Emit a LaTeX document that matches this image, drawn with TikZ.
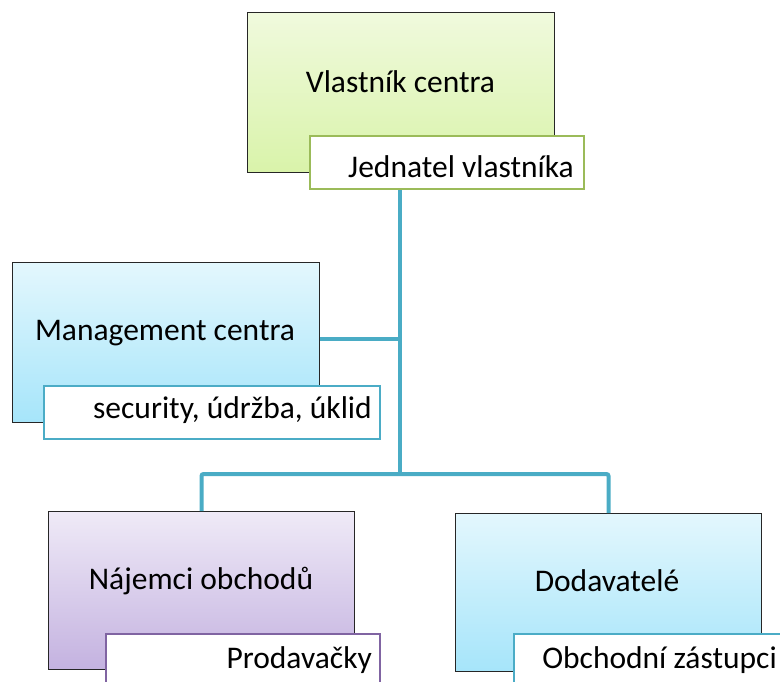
\documentclass[tikz,border=0pt]{standalone}
\usepackage{fontspec}
\setmainfont{Carlito}
\begin{document}
\begin{tikzpicture}[x=1pt,y=-1pt,
  mainbox/.style={draw=black!85, line width=1pt, minimum width=#1, minimum height=160pt, inner sep=0pt, anchor=north west},
  subbox/.style={draw=#1, fill=white, line width=1.5pt, minimum height=53pt, inner sep=0pt, anchor=north west},
  lbl/.style={font=\fontsize{31.5}{36}\selectfont, inner sep=0pt},
  conn/.style={draw={rgb,255:red,74;green,172;blue,197}, line width=4pt, rounded corners=2pt}]
\definecolor{grtop}{HTML}{F0FADD}
\definecolor{grbot}{HTML}{D9F3AA}
\definecolor{bltop}{HTML}{E3F7FD}
\definecolor{blbot}{HTML}{A6E5FA}
\definecolor{putop}{HTML}{EFEAF7}
\definecolor{pubot}{HTML}{C4B2E0}
\definecolor{grline}{HTML}{9BBB59}
\definecolor{blline}{HTML}{4BACC6}
\definecolor{puline}{HTML}{8064A2}
\useasboundingbox (0,0) rectangle (780,681);
\clip (0,0) rectangle (780,681);
% connector coordinates
\coordinate (hub) at (400,339);
\coordinate (bus) at (400,474);
% boxes
\node[mainbox=307pt, top color=grtop, bottom color=grbot] (own) at (247,12) {};
\node[mainbox=307pt, top color=bltop, bottom color=blbot] (mgmt) at (12,262) {};
\node[mainbox=306pt, top color=putop, bottom color=pubot, minimum height=158pt] (naj) at (48,511) {};
\node[mainbox=306pt, top color=bltop, bottom color=blbot, minimum height=158pt] (dod) at (455,513) {};
% connectors
\draw[conn] (own.south -| hub) ++(0,10) -- (bus);
\draw[conn] (mgmt.east |- hub) -- (hub);
\draw[conn] (naj.north) |- (bus) -| (dod.north);
% sub boxes
\node[subbox=grline, minimum width=274pt] (jed) at (309,135) {};
\node[subbox=blline, minimum width=336pt] (sec) at (43,385) {};
\node[subbox=puline, minimum width=274pt] (pro) at (105,633) {};
\node[subbox=blline, minimum width=274pt] (obz) at (513,633) {};
% texts
\node[lbl, anchor=base] (t1) at (400.5,92) {Vlastník centra};
\node[lbl, anchor=base] (t2) at (165,340) {Management centra};
\node[lbl, anchor=base] (t3) at (201,589) {Nájemci obchodů};
\node[lbl, anchor=base] (t4) at (607,591) {Dodavatelé};
\node[lbl, anchor=base east] (s1) at (574,177) {Jednatel vlastníka};
\node[lbl, anchor=base east] (s2) at (372,418) {security, údržba, úklid};
\node[lbl, anchor=base east] (s3) at (372,668) {Prodavačky};
\node[lbl, anchor=base east] (s4) at (777,668) {Obchodní zástupci};
\end{tikzpicture}
\end{document}
